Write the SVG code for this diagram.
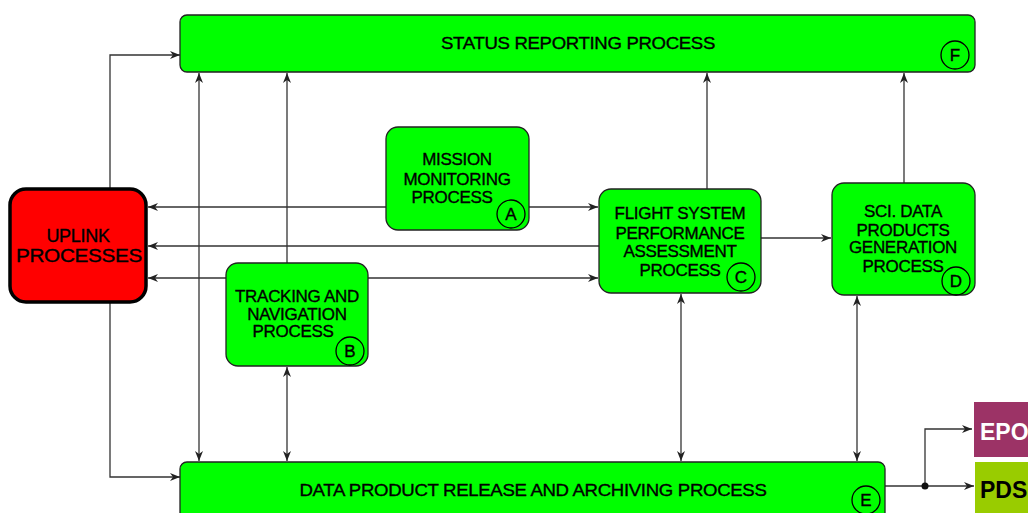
<svg xmlns="http://www.w3.org/2000/svg" width="1028" height="513" viewBox="0 0 1028 513">
<defs>
<marker id="ah" viewBox="0 0 10 8" refX="10" refY="4" markerWidth="10" markerHeight="8" markerUnits="userSpaceOnUse" orient="auto-start-reverse">
<path d="M0,0 L10,4 L0,8 L3,4 Z" fill="#222"/>
</marker>
<style>
.box{fill:#00ff00;stroke:#222;stroke-width:1.3}
.t{font-family:"Liberation Sans",Arial,sans-serif;font-size:17px;fill:#000;stroke:#000;stroke-width:0.35;text-anchor:middle;letter-spacing:-0.3px}
.c{fill:none;stroke:#222;stroke-width:1.3}
.lc{fill:none;stroke:#000;stroke-width:1.3}
.lt{font-family:"Liberation Sans",Arial,sans-serif;font-size:17px;fill:#000;stroke:#000;stroke-width:0.35;text-anchor:middle}
.con{fill:none;stroke:#333;stroke-width:1.3}
</style>
</defs>
<rect width="1028" height="513" fill="#fff"/>
<g id="connectors">
<path class="con" d="M110,188 V55 H180" marker-end="url(#ah)"/>
<path class="con" d="M110,303 V477 H180" marker-end="url(#ah)"/>
<path class="con" d="M199,73 V461" marker-start="url(#ah)" marker-end="url(#ah)"/>
<path class="con" d="M287,263 V73" marker-end="url(#ah)"/>
<path class="con" d="M287,367 V461" marker-start="url(#ah)" marker-end="url(#ah)"/>
<path class="con" d="M386,207 H148" marker-end="url(#ah)"/>
<path class="con" d="M529,207 H598" marker-end="url(#ah)"/>
<path class="con" d="M599,246 H148" marker-end="url(#ah)"/>
<path class="con" d="M148,278 H598" marker-start="url(#ah)" marker-end="url(#ah)"/>
<path class="con" d="M761,238 H831" marker-end="url(#ah)"/>
<path class="con" d="M707,189 V73" marker-end="url(#ah)"/>
<path class="con" d="M681,294 V461" marker-start="url(#ah)" marker-end="url(#ah)"/>
<path class="con" d="M904,183 V73" marker-end="url(#ah)"/>
<path class="con" d="M857,296 V461" marker-start="url(#ah)" marker-end="url(#ah)"/>
<path class="con" d="M885,486 H974" marker-end="url(#ah)"/>
<path class="con" d="M925,486 V429 H972" marker-end="url(#ah)"/>
<circle cx="925" cy="486" r="3.5" fill="#111"/>
</g>
<g id="status">
<rect class="box" x="180" y="15" width="795" height="57" rx="7"/>
<text class="t" x="578" y="49" textLength="274" lengthAdjust="spacingAndGlyphs">STATUS REPORTING PROCESS</text>
<circle class="lc" cx="955" cy="55" r="14"/>
<text class="lt" x="955" y="61">F</text>
</g>
<g id="uplink">
<rect x="10" y="189" width="136" height="113" rx="16" fill="#ff0000" stroke="#000" stroke-width="3.5"/>
<text class="t" x="78" y="242" style="font-size:18px">UPLINK</text>
<text class="t" x="79" y="262" style="font-size:18px" textLength="126" lengthAdjust="spacingAndGlyphs">PROCESSES</text>
</g>
<g id="mission">
<rect class="box" x="386" y="127" width="143" height="103" rx="12"/>
<text class="t" x="457" y="165">MISSION</text>
<text class="t" x="457" y="185">MONITORING</text>
<text class="t" x="452" y="203">PROCESS</text>
<circle class="lc" cx="511" cy="214" r="14" fill="#00ff00"/>
<text class="lt" x="511" y="220">A</text>
</g>
<g id="flight">
<rect class="box" x="599" y="189" width="162" height="104" rx="12"/>
<text class="t" x="680" y="219">FLIGHT SYSTEM</text>
<text class="t" x="680" y="239">PERFORMANCE</text>
<text class="t" x="680" y="257">ASSESSMENT</text>
<text class="t" x="680" y="276">PROCESS</text>
<circle class="lc" cx="741" cy="277" r="14" fill="#00ff00"/>
<text class="lt" x="741" y="283">C</text>
</g>
<g id="sci">
<rect class="box" x="832" y="183" width="143" height="112" rx="12"/>
<text class="t" x="903" y="217">SCI. DATA</text>
<text class="t" x="903" y="236">PRODUCTS</text>
<text class="t" x="903" y="253">GENERATION</text>
<text class="t" x="903" y="272">PROCESS</text>
<circle class="lc" cx="956" cy="281" r="14" fill="#00ff00"/>
<text class="lt" x="956" y="287">D</text>
</g>
<g id="tracking">
<rect class="box" x="226" y="263" width="142" height="103" rx="12"/>
<text class="t" x="297" y="302">TRACKING AND</text>
<text class="t" x="297" y="320">NAVIGATION</text>
<text class="t" x="293" y="337">PROCESS</text>
<circle class="lc" cx="350" cy="351" r="14" fill="#00ff00"/>
<text class="lt" x="350" y="357">B</text>
</g>
<g id="data">
<rect class="box" x="180" y="462" width="705" height="60" rx="7"/>
<text class="t" x="533" y="496" textLength="467" lengthAdjust="spacingAndGlyphs">DATA PRODUCT RELEASE AND ARCHIVING PROCESS</text>
<circle class="lc" cx="866" cy="500" r="14"/>
<text class="lt" x="866" y="506">E</text>
</g>
<g id="epo">
<rect x="974" y="402" width="60" height="55" fill="#9c3366"/>
<text x="980" y="440" font-family="'Liberation Sans',Arial,sans-serif" font-size="23" font-weight="bold" fill="#fff">EPO</text>
</g>
<g id="pds">
<rect x="975" y="462" width="60" height="55" fill="#99cc00"/>
<text x="980" y="498" font-family="'Liberation Sans',Arial,sans-serif" font-size="23" font-weight="bold" fill="#000">PDS</text>
</g>
</svg>
